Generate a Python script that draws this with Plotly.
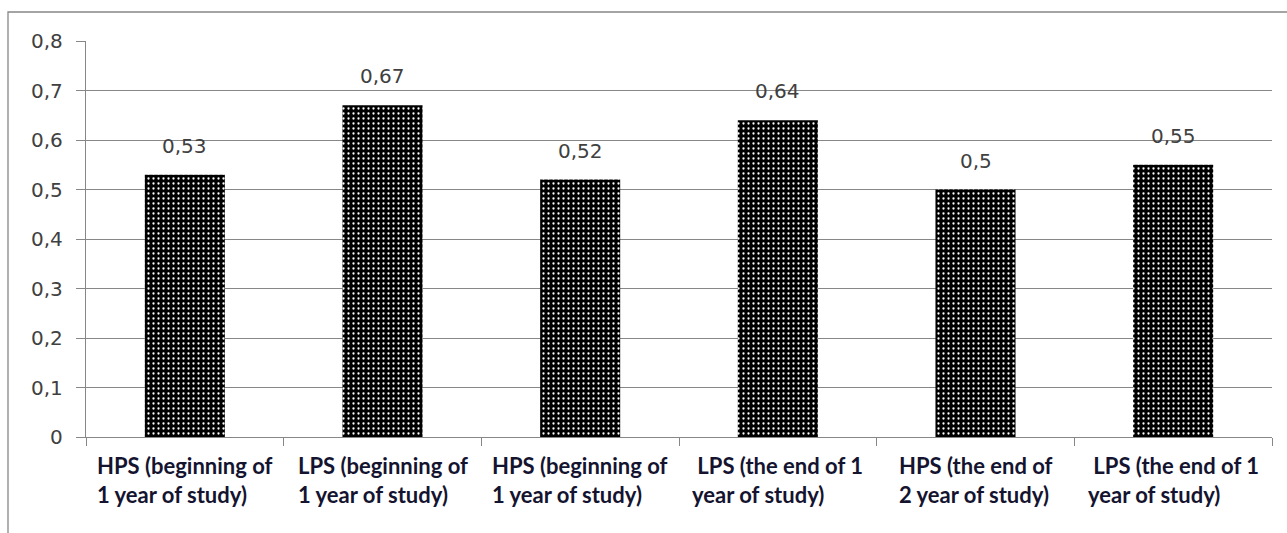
import plotly.graph_objects as go

labels_line1 = ["HPS (beginning of", "LPS (beginning of", "HPS (beginning of",
                " LPS (the end of 1", "HPS (the end of", " LPS (the end of 1"]
labels_line2 = ["1 year of study)", "1 year of study)", "1 year of study)",
                "year of study)", "2 year of study)", "year of study)"]
values = [0.53, 0.67, 0.52, 0.64, 0.50, 0.55]
y_ticks = [0, 0.1, 0.2, 0.3, 0.4, 0.5, 0.6, 0.7, 0.8]

W, H = 1287, 533
ML, MR, MT, MB = 86, 15, 41, 96
PW = W - ML - MR
PH = H - MT - MB

xs = list(range(len(values)))
GRID = "#878787"

fig = go.Figure()
fig.add_trace(go.Bar(
    x=xs, y=values, width=0.405,
    marker=dict(color="black", line=dict(width=0),
                pattern=dict(shape=".", bgcolor="black", fgcolor="white",
                             size=5, solidity=0.16, fillmode="replace")),
    hoverinfo="skip", showlegend=False,
))

annotations = []
for i, v in enumerate(values):
    annotations.append(dict(
        x=i, y=v, xref="x", yref="y", text=str(v).replace(".", ","),
        showarrow=False, yanchor="bottom", yshift=15,
        font=dict(family="DejaVu Sans", size=20, color="#404040")))
for a, b, i in zip(labels_line1, labels_line2, xs):
    t = ("&nbsp;" + a[1:]) if a.startswith(" ") else a
    annotations.append(dict(
        x=i, y=0, xref="x", yref="paper", text=t + "<br>" + b,
        showarrow=False, yanchor="top", yshift=-13, align="left",
        font=dict(family="Lato", size=22, color="#141430", weight="bold")))

fig.update_layout(
    width=W, height=H,
    margin=dict(l=ML, r=MR, t=MT, b=MB),
    paper_bgcolor="white", plot_bgcolor="white",
    separators=",.",
    annotations=annotations,
    shapes=[dict(type="rect", xref="paper", yref="paper",
                 x0=(8 - ML) / PW, x1=(W + 5 - ML) / PW,
                 y0=-(H + 5 - (MT + PH)) / PH, y1=(MT + PH - 12) / PH,
                 line=dict(color=GRID, width=1.3), fillcolor="rgba(0,0,0,0)",
                 layer="below")],
    xaxis=dict(range=[-0.5, len(values) - 0.5], showgrid=False, zeroline=False,
               showline=True, linecolor=GRID, linewidth=1.3,
               tickmode="array", tickvals=[i - 0.5 for i in range(len(values) + 1)],
               ticks="outside", ticklen=8, tickcolor=GRID, tickwidth=1.3,
               showticklabels=False, fixedrange=True),
    yaxis=dict(range=[0, 0.8], tickmode="array", tickvals=y_ticks,
               showgrid=True, gridcolor=GRID, gridwidth=1.3, zeroline=False,
               showline=True, linecolor=GRID, linewidth=1.3,
               ticks="outside", ticklen=9, tickcolor=GRID, tickwidth=1.3,
               ticklabelstandoff=9,
               tickfont=dict(family="DejaVu Sans", size=20, color="#404040"),
               fixedrange=True),
)

fig.write_html("out.html", config={"displayModeBar": False},
               post_script="document.body.style.margin='0';document.body.style.overflow='hidden';")
